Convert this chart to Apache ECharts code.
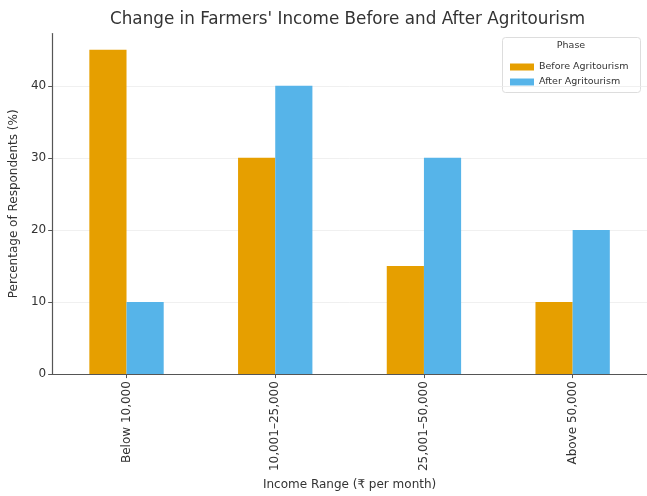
<!DOCTYPE html>
<html>
<head>
<meta charset="utf-8">
<script src="https://cdn.jsdelivr.net/npm/echarts@6/dist/echarts.min.js"></script>
<style>
  html, body { margin: 0; padding: 0; background: #fff; }
  #chart { width: 647px; height: 496px; }
</style>
</head>
<body>
<div id="chart"></div>
<script>
// Income brackets and share of respondents in each phase
const categories = ['Below 10,000', '10,001–25,000', '25,001–50,000', 'Above 50,000'];
const beforeValues = [45, 30, 15, 10];
const afterValues = [10, 40, 30, 20];
const seriesNames = ['Before Agritourism', 'After Agritourism'];
const yTicks = [0, 10, 20, 30, 40];

const FONT = 'DejaVu Sans';
const TEXT = '#333333';

const chart = echarts.init(document.getElementById('chart'), null, { renderer: 'canvas' });

chart.setOption({
  backgroundColor: '#ffffff',
  animation: false,
  textStyle: { fontFamily: FONT },
  title: {
    text: "Change in Farmers' Income Before and After Agritourism",
    left: 105,
    top: 6,
    textStyle: { fontFamily: FONT, fontSize: 16.8, fontWeight: 'normal', color: TEXT }
  },
  grid: { left: 50, top: 33.5, width: 598, height: 346.5, containLabel: false },
  legend: {
    orient: 'vertical',
    left: 505,
    top: 57,
    itemWidth: 24,
    itemHeight: 7,
    itemGap: 5,
    icon: 'rect',
    data: seriesNames,
    textStyle: { fontFamily: FONT, fontSize: 9.5, color: TEXT }
  },
  graphic: [
    {
      type: 'rect',
      shape: { x: 502.5, y: 37.5, width: 138, height: 55, r: 3 },
      style: { fill: 'rgba(255,255,255,0.8)', stroke: '#dddddd', lineWidth: 1 },
      z: 0
    },
    {
      type: 'text',
      x: 571, y: 46,
      style: { text: 'Phase', fontFamily: FONT, fontSize: 9.5, fill: TEXT, align: 'center', verticalAlign: 'middle' },
      z: 1
    }
  ],
  xAxis: {
    type: 'category',
    data: categories,
    name: 'Income Range (₹ per month)',
    nameLocation: 'middle',
    nameGap: 102,
    nameTextStyle: { fontFamily: FONT, fontSize: 12, color: TEXT },
    axisLine: { lineStyle: { color: '#555555', width: 1.2 } },
    axisTick: { show: true, alignWithLabel: true, length: 4, lineStyle: { color: '#555555' } },
    axisLabel: { rotate: 90, margin: 7, fontFamily: FONT, fontSize: 12, color: TEXT, interval: 0 },
    splitLine: { show: false }
  },
  yAxis: {
    type: 'value',
    min: 0,
    max: 47.25,
    interval: 10,
    name: 'Percentage of Respondents (%)',
    nameLocation: 'middle',
    nameGap: 22,
    nameTextStyle: { fontFamily: FONT, fontSize: 12, color: TEXT },
    axisLine: { show: true, lineStyle: { color: '#555555', width: 1.2 } },
    axisTick: { show: true, length: 4, customValues: yTicks, lineStyle: { color: '#555555' } },
    axisLabel: {
      fontFamily: FONT, fontSize: 12, color: TEXT, margin: 6,
      customValues: yTicks
    },
    splitLine: { show: true, lineStyle: { color: '#ececec', width: 0.8 } }
  },
  series: [
    {
      name: seriesNames[0],
      type: 'bar',
      data: beforeValues,
      barWidth: '25%',
      barGap: '0%',
      itemStyle: { color: '#E69F00' }
    },
    {
      name: seriesNames[1],
      type: 'bar',
      data: afterValues,
      barWidth: '25%',
      barGap: '0%',
      itemStyle: { color: '#56B4E9' }
    }
  ]
});
</script>
</body>
</html>
